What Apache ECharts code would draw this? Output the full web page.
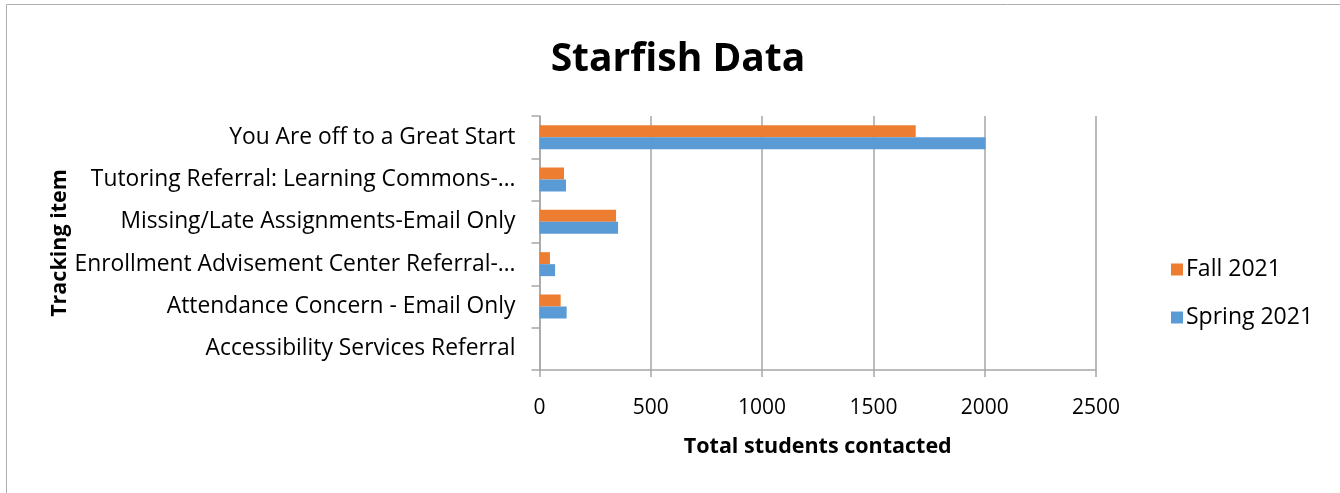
<!DOCTYPE html>
<html><head><meta charset="utf-8">
<script src="https://cdn.jsdelivr.net/npm/echarts@6/dist/echarts.min.js"></script>
<style>html,body{margin:0;padding:0;background:#fff}#c{width:1340px;height:493px}</style>
</head><body><div id="c"></div>
<script>
const categories = [
  "Accessibility Services Referral",
  "Attendance Concern - Email Only",
  "Enrollment Advisement Center Referral-…",
  "Missing/Late Assignments-Email Only",
  "Tutoring Referral: Learning Commons-…",
  "You Are off to a Great Start"
];
const spring2021 = [0, 122, 70, 353, 119, 2004];
const fall2021 = [0, 95, 47, 344, 110, 1690];
const xTicks = [0, 500, 1000, 1500, 2000, 2500];

const font = "Open Sans";
const chart = echarts.init(document.getElementById('c'));
chart.setOption({
  animation: false,
  textStyle: {fontFamily: font},
  title: {text: 'Starfish Data', top: 35, left: 673, textAlign: 'center',
    textStyle: {fontFamily: font, fontSize: 39, fontWeight: 'bold', color: '#000'}},
  graphic: [{type: 'rect', shape: {x: 6.5, y: 4.5, width: 1400, height: 600},
    style: {fill: 'none', stroke: '#AFAFAF', lineWidth: 1}, silent: true}],
  legend: {
    orient: 'vertical', left: 1166, top: 253, itemWidth: 12, itemHeight: 12, itemGap: 25,
    icon: 'rect',
    data: ['Fall 2021', 'Spring 2021'],
    textStyle: {fontFamily: font, fontSize: 23, color: '#000', padding: [0, 0, 0, -2]}
  },
  grid: {left: 539.5, right: 244, top: 116, bottom: 123, containLabel: false},
  xAxis: {
    type: 'value', min: xTicks[0], max: xTicks[xTicks.length - 1], interval: 500,
    name: 'Total students contacted', nameLocation: 'middle', nameGap: 66,
    nameTextStyle: {fontFamily: font, fontSize: 21.5, fontWeight: 'bold', color: '#000'},
    axisLine: {show: true, lineStyle: {color: '#A6A6A6', width: 1.5}},
    axisTick: {show: true, length: 7, lineStyle: {color: '#A6A6A6', width: 1.5}},
    axisLabel: {fontFamily: font, fontSize: 21, color: '#000', margin: 28,
      formatter: function (v) { return String(v); }},
    splitLine: {show: true, lineStyle: {color: '#A6A6A6', width: 1.5}}
  },
  yAxis: {
    type: 'category', data: categories,
    name: 'Tracking item', nameLocation: 'middle', nameGap: 460, nameRotate: 90,
    nameTextStyle: {fontFamily: font, fontSize: 21.5, fontWeight: 'bold', color: '#000'},
    axisLine: {show: true, lineStyle: {color: '#A6A6A6', width: 1.5}},
    axisTick: {show: true, length: 8, lineStyle: {color: '#A6A6A6', width: 1.5}},
    axisLabel: {fontFamily: font, fontSize: 22.8, color: '#000', margin: 24},
    splitLine: {show: false}
  },
  series: [
    {name: 'Fall 2021', type: 'bar', data: fall2021, itemStyle: {color: '#ED7D31'},
     barWidth: 12, barGap: '0%', barCategoryGap: '43%'},
    {name: 'Spring 2021', type: 'bar', data: spring2021, itemStyle: {color: '#5B9BD5'},
     barWidth: 12, barGap: '0%', barCategoryGap: '43%'}
  ]
});
</script></body></html>
